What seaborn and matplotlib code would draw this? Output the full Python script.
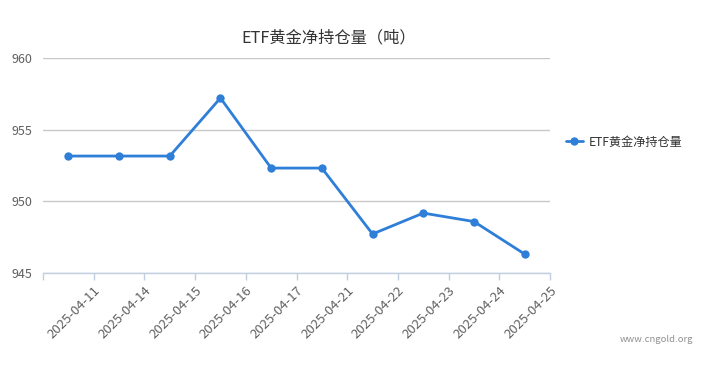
import pandas as pd
import seaborn as sns
import matplotlib.pyplot as plt
import numpy as np

# data
dates = ['2025-04-11', '2025-04-14', '2025-04-15', '2025-04-16', '2025-04-17',
         '2025-04-21', '2025-04-22', '2025-04-23', '2025-04-24', '2025-04-25']
holdings = [953.16, 953.16, 953.16, 957.21, 952.32, 952.32, 947.72, 949.18, 948.59, 946.32]
yticks = [945, 950, 955, 960]
series_name = 'ETF黄金净持仓量'
title = 'ETF黄金净持仓量（吨）'

df = pd.DataFrame({'date': dates, 'value': holdings})

sns.set_style('white')
plt.rcParams['font.family'] = ['Noto Sans CJK SC', 'DejaVu Sans']

fig = plt.figure(figsize=(7.05, 3.67), dpi=100)
ax = fig.add_axes([43 / 705, 1 - 273 / 367, (550 - 43) / 705, (273 - 58) / 367])

line_color = '#2f7ed8'
sns.lineplot(data=df, x='date', y='value', ax=ax, color=line_color, linewidth=2,
             marker='o', markersize=6, markeredgewidth=0, label=series_name, sort=False)

# y axis
ax.set_ylim(945, 960)
ax.set_yticks(yticks)
ax.yaxis.grid(True, color='#c8c8c8', linewidth=1)
ax.tick_params(axis='y', length=0, pad=8, labelsize=9, labelcolor='#606060')

# x axis: ticks on category boundaries, labels offset to the right boundary
n = len(dates)
ax.set_xlim(-0.5, n - 0.5)
ax.set_xticks(np.arange(-0.5, n, 1.0))
ax.set_xticklabels([''] + dates, rotation=45, ha='right', rotation_mode='anchor')
ax.tick_params(axis='x', length=5, width=1, color='#c0d0e0', pad=3,
               labelsize=9.5, labelcolor='#606060', direction='out', bottom=True)
ax.set_xlabel('')
ax.set_ylabel('')

for side in ['left', 'right', 'top']:
    ax.spines[side].set_visible(False)
ax.spines['bottom'].set_color('#c0d0e0')
ax.spines['bottom'].set_linewidth(1)
ax.set_axisbelow(True)

ax.legend(loc='center left', bbox_to_anchor=(566 / 705, 1 - 142 / 367),
          bbox_transform=fig.transFigure, frameon=False, fontsize=8.7,
          handlelength=1.4, handletextpad=0.5, borderpad=0, borderaxespad=0,
          labelcolor='#333333')

fig.text(329 / 705, 1 - 38 / 367, title, ha='center', va='center',
         fontsize=11.7, color='#333333')
fig.text(693 / 705, 1 - 340 / 367, 'www.cngold.org', ha='right', va='center',
         fontsize=6.8, color='#909090')

fig.savefig('out.png', dpi=100)
